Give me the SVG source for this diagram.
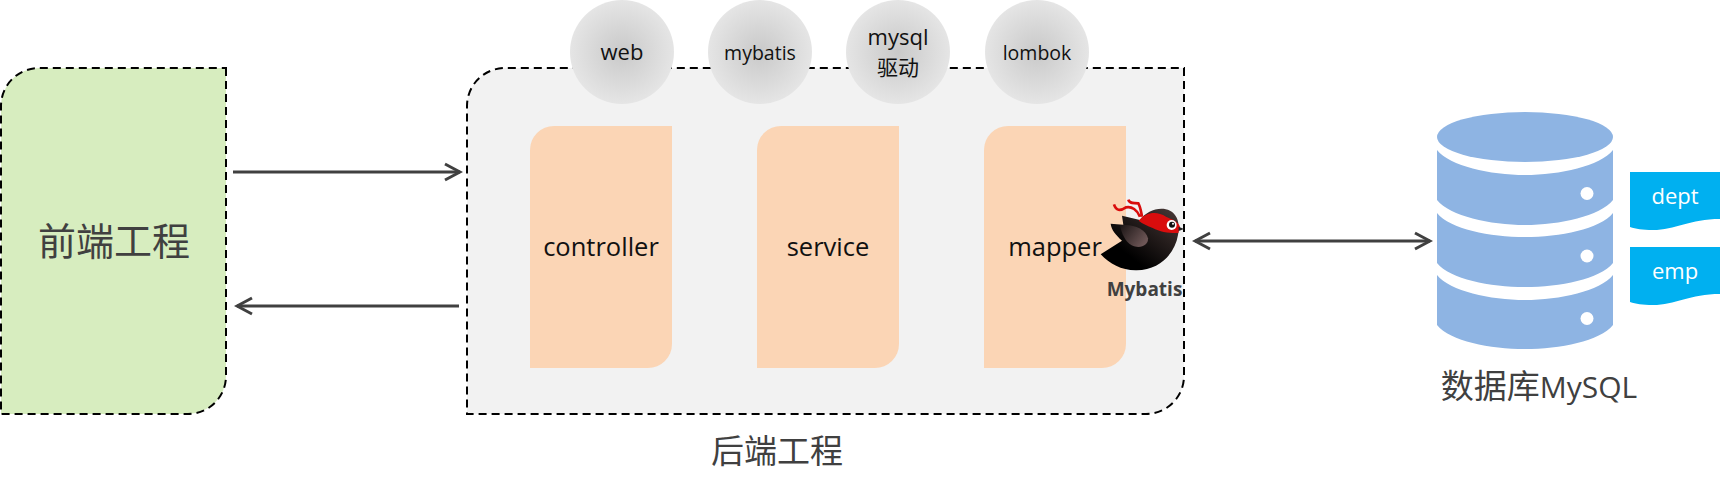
<svg xmlns="http://www.w3.org/2000/svg" width="1720" height="489" viewBox="0 0 1720 489">
<style>
text{font-family:"Open Sans","Noto Sans CJK SC",sans-serif;text-anchor:middle}
.cjk{font-family:"Noto Sans CJK SC",sans-serif}
.box{stroke:#000;stroke-width:2;stroke-dasharray:8 5}
.org{fill:#fbd5b5}
.lab{font-size:25.500px;fill:#111}
.cir{fill:url(#cg)}
.ctx{font-size:22px;fill:#111}
.cts{font-size:19.500px;fill:#111}
.big{fill:#404040}
.db{fill:#8eb4e3}
.dot{fill:#fff}
.tab{fill:#00b0f0}
.tabt{font-size:22px;fill:#fff}
.arr{fill:none;stroke:#404040;stroke-width:3}
</style>
<defs>
<radialGradient id="cg"><stop offset="0" stop-color="#c9c9c9"/><stop offset="1" stop-color="#e5e5e5"/></radialGradient>
<linearGradient id="bg" x1="0" y1="1" x2="1" y2="0"><stop offset="0.3" stop-color="#000"/><stop offset="1" stop-color="#4a3a38"/></linearGradient>
<linearGradient id="wg" x1="0" y1="0" x2="1" y2="0.6"><stop offset="0" stop-color="#1a1414"/><stop offset="1" stop-color="#6d5656"/></linearGradient>
<marker id="ah" markerUnits="userSpaceOnUse" markerWidth="20" markerHeight="20" refX="17" refY="10" orient="auto-start-reverse"><path d="M2,2 L17,10 L2,18" fill="none" stroke="#404040" stroke-width="3"/></marker>
</defs>

<g id="frontend">
<path class="box" fill="#d7edbf" d="M226,68 V376 A38,38 0 0 1 188,414 H1 V106 A38,38 0 0 1 39,68 Z"/>
<text class="cjk big" x="114" y="255" font-size="38">前端工程</text>
</g>

<g id="backend">
<path class="box" fill="#f2f2f2" d="M1184,68 V376 A38,38 0 0 1 1146,414 H467 V106 A38,38 0 0 1 505,68 Z"/>
<text class="cjk big" x="777" y="463" font-size="33">后端工程</text>
</g>

<g id="controller">
<path class="org" d="M554,126 H672 V344 A24,24 0 0 1 648,368 H530 V150 A24,24 0 0 1 554,126 Z"/>
<text class="lab" x="601" y="256">controller</text>
</g>
<g id="service">
<path class="org" d="M781,126 H899 V344 A24,24 0 0 1 875,368 H757 V150 A24,24 0 0 1 781,126 Z"/>
<text class="lab" x="828" y="256">service</text>
</g>
<g id="mapper">
<path class="org" d="M1008,126 H1126 V344 A24,24 0 0 1 1102,368 H984 V150 A24,24 0 0 1 1008,126 Z"/>
<text class="lab" x="1055" y="256">mapper</text>
</g>

<g id="web"><circle class="cir" cx="622" cy="52" r="52"/><text class="ctx" x="622" y="60">web</text></g>
<g id="mybatis"><circle class="cir" cx="760" cy="52" r="52"/><text class="cts" x="760" y="60">mybatis</text></g>
<g id="mysql"><circle class="cir" cx="898" cy="52" r="52"/><text class="ctx" x="898" y="45">mysql</text><text class="cjk" x="898" y="75" font-size="21" fill="#111">驱动</text></g>
<g id="lombok"><circle class="cir" cx="1037" cy="52" r="52"/><text class="cts" x="1037" y="60">lombok</text></g>

<g id="mybatis-logo">
<g transform="translate(1040,170) scale(0.3333)">
<path fill="url(#bg)" d="M182,253 L246,212 C228,195 214,180 212,161 L250,164 L246,137 L300,150 C320,122 360,108 390,122 C415,135 420,165 414,195 C405,250 360,300 290,301 C245,302 210,282 182,253 Z"/>
<path fill="url(#wg)" d="M240,166 C275,160 318,175 324,205 C326,228 298,237 275,226 C255,215 245,190 240,166 Z"/>
<path fill="#d90d0d" d="M296,152 C318,126 350,122 378,140 C395,148 414,153 420,170 L415,189 C390,190 360,186 338,174 C323,167 308,162 296,152 Z"/>
<path fill="none" stroke="#d90d0d" stroke-width="8" d="M222,103 C228,122 240,124 258,112 C275,108 292,120 300,140 M265,89 C268,102 280,98 295,100 C302,112 303,125 306,140"/>
<circle cx="395" cy="165" r="15" fill="#fff"/><circle cx="396" cy="164" r="9" fill="#111"/><circle cx="399" cy="161" r="3" fill="#fff"/>
<path d="M416,170 L432,177 L416,183 Z" fill="#222"/>
</g>
<text x="1144.500" y="296" font-size="19" font-weight="700" fill="#404040">Mybatis</text>
</g>

<g id="database">
<ellipse class="db" cx="1525" cy="137" rx="88" ry="25"/>
<path class="db" d="M1437,150 C1450,166 1490,175 1525,175 C1560,175 1600,166 1613,150 V200 C1600,216 1560,225 1525,225 C1490,225 1450,216 1437,200 Z"/>
<path class="db" d="M1437,213 C1450,229 1490,237 1525,237 C1560,237 1600,229 1613,213 V263 C1600,279 1560,287 1525,287 C1490,287 1450,279 1437,263 Z"/>
<path class="db" d="M1437,275 C1450,291 1490,300 1525,300 C1560,300 1600,291 1613,275 V325 C1600,341 1560,349 1525,349 C1490,349 1450,341 1437,325 Z"/>
<circle class="dot" cx="1587" cy="193.500" r="6.500"/><circle class="dot" cx="1587" cy="256" r="6.500"/><circle class="dot" cx="1587" cy="318.500" r="6.500"/>
<text class="big" x="1539" y="398"><tspan class="cjk" font-size="33">数据库</tspan><tspan font-size="30">MySQL</tspan></text>
</g>

<g id="dept">
<path class="tab" d="M1630,172 H1720 V219 C1690,219 1675,230 1653,230 C1642,230 1636,229 1630,227 Z"/>
<text class="tabt" x="1675" y="204">dept</text>
</g>
<g id="emp">
<path class="tab" d="M1630,247 H1720 V294 C1690,294 1675,305 1653,305 C1642,305 1636,304 1630,302 Z"/>
<text class="tabt" x="1675" y="279">emp</text>
</g>

<g id="connectors">
<path class="arr" d="M233,172 H460" marker-end="url(#ah)"/>
<path class="arr" d="M459,306 H237" marker-end="url(#ah)"/>
<path class="arr" d="M1195,241 H1430" marker-start="url(#ah)" marker-end="url(#ah)"/>
</g>
</svg>
